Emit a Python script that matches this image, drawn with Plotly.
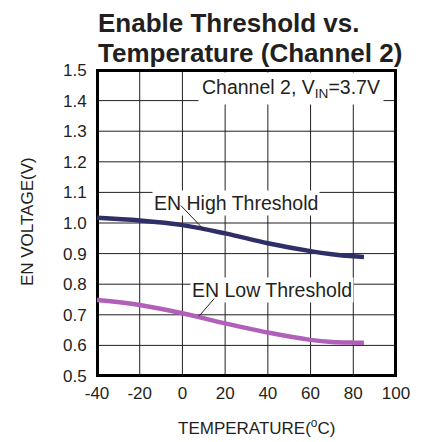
import plotly.graph_objects as go

temp = [-40, -20, 0, 20, 40, 60, 70, 80, 85]
en_high = [1.017, 1.008, 0.993, 0.966, 0.934, 0.908, 0.898, 0.891, 0.889]
en_low = [0.748, 0.732, 0.705, 0.672, 0.642, 0.618, 0.611, 0.609, 0.609]

x_ticks = [-40, -20, 0, 20, 40, 60, 80, 100]
x_tick_labels = ["-40", "-20", "0", "20", "40", "60", "80", "100"]
y_ticks = [0.5, 0.6, 0.7, 0.8, 0.9, 1.0, 1.1, 1.2, 1.3, 1.4, 1.5]

FONT = "Liberation Sans, Arial, sans-serif"
INK = "#231f20"

# page geometry (browser body has an 8px margin)
OFF = 8
W, H = 422 - OFF, 442 - OFF
PL, PR, PT, PB = 97, 405, 70, 376          # plot area in page pixels
L, R, T, B = PL - OFF, OFF + W - PR, PT - OFF, OFF + H - PB
pw, ph = W - L - R, H - T - B


def px(x):
    return (x - PL) / pw


def py(y):
    return (PB - y) / ph


# grid drawn from the tick arrays through the axes
gx, gy = [], []
for t in x_ticks:
    gx += [t, t, None]
    gy += [y_ticks[0], y_ticks[-1], None]
for v in y_ticks:
    gx += [x_ticks[0], x_ticks[-1], None]
    gy += [v, v, None]
fx = [x_ticks[0], x_ticks[-1], x_ticks[-1], x_ticks[0], x_ticks[0]]
fy = [y_ticks[0], y_ticks[0], y_ticks[-1], y_ticks[-1], y_ticks[0]]

fig = go.Figure()
fig.add_trace(go.Scatter(x=gx, y=gy, mode="lines", line=dict(color=INK, width=1),
                         showlegend=False, hoverinfo="skip", connectgaps=False))
fig.add_trace(go.Scatter(x=fx, y=fy, mode="lines", line=dict(color="#000", width=4),
                         showlegend=False, hoverinfo="skip"))
fig.add_trace(go.Scatter(x=temp, y=en_high, mode="lines",
                         line=dict(color="#2e2f66", width=4.5, shape="spline"),
                         showlegend=False))
fig.add_trace(go.Scatter(x=temp, y=en_low, mode="lines",
                         line=dict(color="#b060b8", width=4.5, shape="spline"),
                         showlegend=False))

txt = dict(family=FONT, size=19.5, color=INK)
annos = [
    dict(x=25, y=1.065, text="EN High Threshold", showarrow=False, bgcolor="white",
         font=txt, borderpad=1),
    dict(x=42, y=0.781, text="EN Low Threshold", showarrow=False, bgcolor="white",
         font=txt, borderpad=1),
    dict(x=51, y=1.44, text="Channel 2, V<sub>IN</sub>=3.7V", showarrow=False,
         bgcolor="white", font=txt, borderpad=3),
    # leader lines
    dict(x=10.5, y=0.975, ax=-1.4, ay=1.062, axref="x", ayref="y", xref="x", yref="y",
         text="", showarrow=True, arrowhead=0, arrowwidth=1, arrowcolor=INK),
    dict(x=7.7, y=0.695, ax=15.5, ay=0.758, axref="x", ayref="y", xref="x", yref="y",
         text="", showarrow=True, arrowhead=0, arrowwidth=1, arrowcolor=INK),
    # title lines
    dict(x=px(96), y=py(23), xref="paper", yref="paper", xanchor="left", yanchor="middle",
         text="<b>Enable Threshold vs.</b>", showarrow=False,
         font=dict(family=FONT, size=26, color=INK)),
    dict(x=px(96), y=py(53), xref="paper", yref="paper", xanchor="left", yanchor="middle",
         text="<b>Temperature (Channel 2)</b>", showarrow=False,
         font=dict(family=FONT, size=26, color=INK)),
    # axis titles
    dict(x=px(25), y=py(222), xref="paper", yref="paper", xanchor="center",
         yanchor="middle", text="EN VOLTAGE(V)", textangle=-90, showarrow=False,
         font=dict(family=FONT, size=17, color=INK)),
    dict(x=px(261), y=py(427), xref="paper", yref="paper", xanchor="center",
         yanchor="middle", text="TEMPERATURE(<sup>o</sup>C)", showarrow=False,
         font=dict(family=FONT, size=17, color=INK)),
]

fig.update_layout(
    width=W, height=H,
    margin=dict(l=L, r=R, t=T, b=B),
    paper_bgcolor="white", plot_bgcolor="white",
    annotations=annos,
    xaxis=dict(range=[-40, 100], tickvals=x_ticks, ticktext=x_tick_labels,
               showgrid=False, zeroline=False,
               showline=True, linecolor="#000", linewidth=1, mirror=True, ticks="",
               tickfont=dict(family=FONT, size=17, color=INK), ticklabelstandoff=2,
               ticklabeloverflow="allow"),
    yaxis=dict(range=[0.5, 1.5], tickvals=y_ticks, tickformat=".1f",
               showgrid=False, zeroline=False,
               showline=True, linecolor="#000", linewidth=1, mirror=True, ticks="",
               tickfont=dict(family=FONT, size=17, color=INK), ticklabelstandoff=6,
               ticklabeloverflow="allow"),
)

fig.write_html("out.html")
